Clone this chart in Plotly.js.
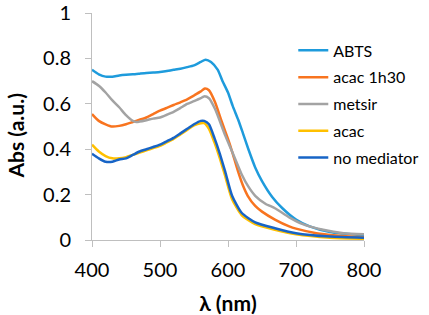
<!DOCTYPE html>
<html><head><meta charset="utf-8">
<script src="https://cdn.plot.ly/plotly-3.0.1.min.js"></script>
<style>html,body{margin:0;padding:0;background:#fff}#chart{width:429px;height:315px}</style>
</head><body><div id="chart"></div>
<script>
const seriesNames = ["ABTS", "acac 1h30", "metsir", "acac", "no mediator"];
const seriesColors = ["#1E9BDC", "#F8741F", "#A3A3A3", "#FFC000", "#1764C6"];

const abtsX = [400,410,420,430,440,450,460,470,480,490,500,510,520,530,540,550,560,567,575,585,592,600,607,615,622,630,640,650,665,680,700,720,750,800];
const abtsY = [0.75,0.73,0.72,0.72,0.725,0.728,0.73,0.733,0.736,0.738,0.74,0.745,0.75,0.755,0.762,0.77,0.785,0.795,0.785,0.75,0.70,0.65,0.59,0.53,0.47,0.40,0.32,0.26,0.19,0.14,0.09,0.06,0.035,0.02];

const acac130X = [400,410,420,430,440,450,460,470,480,490,500,510,520,530,540,550,560,566,572,581,591,600,606,615,622,629,640,650,669,690,700,730,760,800];
const acac130Y = [0.555,0.525,0.51,0.50,0.503,0.51,0.52,0.53,0.54,0.555,0.57,0.582,0.595,0.607,0.62,0.637,0.655,0.668,0.66,0.607,0.52,0.445,0.39,0.30,0.24,0.195,0.15,0.125,0.09,0.06,0.05,0.03,0.02,0.012];

const metsirX = [400,410,420,430,440,450,460,465,470,480,490,500,510,520,530,540,550,560,565,572,581,596,606,620,630,640,655,669,690,710,740,770,800];
const metsirY = [0.70,0.68,0.65,0.615,0.585,0.55,0.525,0.52,0.522,0.528,0.535,0.54,0.552,0.565,0.582,0.60,0.612,0.625,0.633,0.625,0.577,0.46,0.39,0.29,0.235,0.195,0.16,0.14,0.10,0.07,0.045,0.03,0.025];

const acacX = [400,410,420,430,440,450,460,470,480,490,500,510,520,530,540,550,560,565,572,580,588,596,606,620,640,669,700,750,800];
const acacY = [0.42,0.39,0.37,0.36,0.36,0.365,0.375,0.385,0.395,0.405,0.415,0.43,0.445,0.465,0.485,0.505,0.515,0.515,0.49,0.43,0.36,0.28,0.18,0.11,0.07,0.045,0.025,0.01,0.005];

const noMedX = [400,410,420,430,440,450,460,470,480,490,500,510,520,530,540,550,560,565,572,580,588,596,606,620,640,669,700,750,800];
const noMedY = [0.38,0.36,0.345,0.345,0.355,0.36,0.375,0.39,0.40,0.41,0.42,0.435,0.45,0.47,0.49,0.51,0.525,0.525,0.51,0.45,0.38,0.30,0.195,0.12,0.078,0.052,0.03,0.015,0.01];

const xs = [abtsX, acac130X, metsirX, acacX, noMedX];
const ys = [abtsY, acac130Y, metsirY, acacY, noMedY];

const xTicks = [400, 500, 600, 700, 800];
const yTicks = [0, 0.2, 0.4, 0.6, 0.8, 1];
const yTickText = ["0", "0.2", "0.4", "0.6", "0.8", "1"];

const traces = seriesNames.map((n, i) => ({
  x: xs[i], y: ys[i], name: n, type: 'scatter', mode: 'lines',
  line: {color: seriesColors[i], width: 2.5, shape: 'spline', smoothing: 0.6},
  legendgroup: 'g' + i
}));

const fam = 'Lato, "Open Sans", sans-serif';
const axisFont = {family: fam, size: 20, color: '#000'};
const layout = {
  width: 429, height: 315,
  margin: {l: 92, r: 65, t: 13, b: 75, autoexpand: false},
  paper_bgcolor: '#fff', plot_bgcolor: '#fff',
  showlegend: true,
  legend: {x: 0.74, y: 0.91, xanchor: 'left', yanchor: 'top',
    font: {family: fam, size: 16, color: '#000'},
    bgcolor: 'rgba(0,0,0,0)', itemwidth: 30, tracegroupgap: 3},
  xaxis: {range: [400, 800], tickvals: xTicks, ticktext: xTicks.map(String), automargin: false,
    showgrid: false, zeroline: false, showline: true, linecolor: '#BFBFBF', linewidth: 1,
    ticks: 'outside', ticklen: 6, tickcolor: '#BFBFBF', tickfont: axisFont, ticklabelstandoff: 6,
    ticklabeloverflow: 'allow',
    title: {text: '<b>λ (nm)</b>', font: {family: fam, size: 21, color: '#000'}, standoff: 16}},
  yaxis: {range: [0, 1.0005], tickvals: yTicks, ticktext: yTickText, automargin: false,
    showgrid: false, zeroline: false, showline: true, linecolor: '#BFBFBF', linewidth: 1,
    ticks: 'outside', ticklen: 6, tickcolor: '#BFBFBF', tickfont: axisFont, ticklabelstandoff: 10,
    ticklabeloverflow: 'allow'},
  annotations: [{text: '<b>Abs (a.u.)</b>', xref: 'paper', yref: 'paper', x: -0.283, y: 0.456,
    xanchor: 'center', yanchor: 'middle', textangle: -90, showarrow: false,
    font: {family: fam, size: 21, color: '#000'}}]
};
Plotly.newPlot('chart', traces, layout, {staticPlot: true, displayModeBar: false});
</script></body></html>
